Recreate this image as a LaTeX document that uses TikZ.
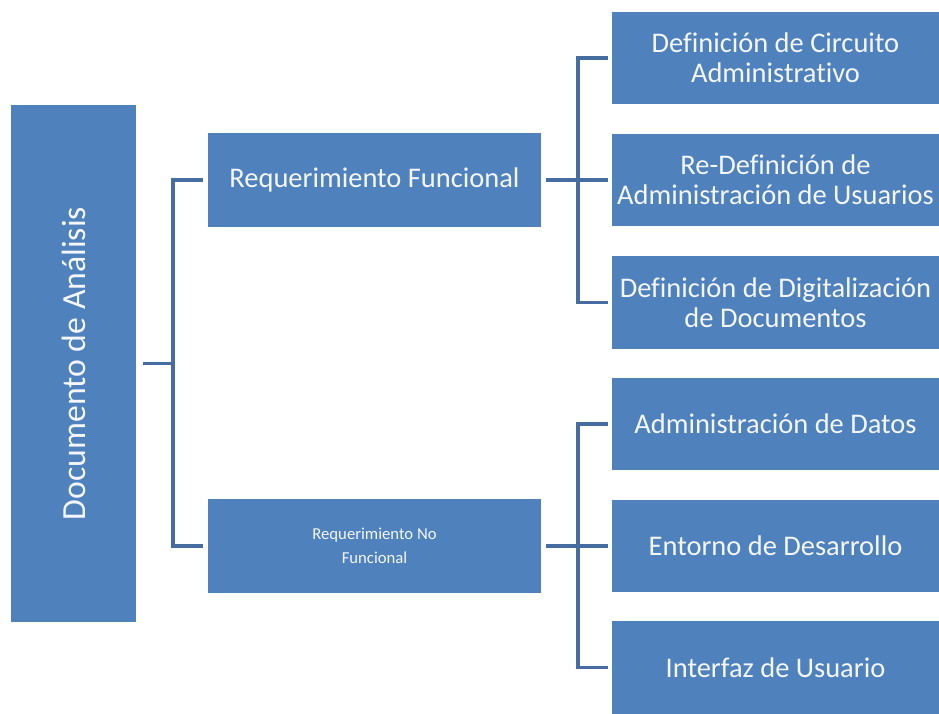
\documentclass[tikz,border=0pt]{standalone}
\usepackage{fontspec}
\setmainfont[Ligatures=CommonOff]{Carlito}
\usetikzlibrary{positioning}
\definecolor{boxfill}{HTML}{4F81BD}
\definecolor{linkline}{HTML}{466DA2}
\definecolor{boxtext}{HTML}{F4F6FA}
\newcommand{\bodysize}{\fontsize{16.2}{17.2}\selectfont}
\tikzset{
 every node/.append style={text=boxtext,align=center},
 box/.style={fill=boxfill,draw=none,inner sep=2pt,font=\bodysize},
 mid/.style={box,minimum width=6.66cm,minimum height=1.88cm},
 leaf/.style={box,minimum width=6.54cm,minimum height=1.86cm},
 link/.style={draw=linkline,line width=2.1pt},
}
\begin{document}
\begin{tikzpicture}[x=0.02cm,y=-0.02cm]

\useasboundingbox (0,0) rectangle (939,713);
\node[box,rotate=90,minimum width=10.34cm,minimum height=2.5cm,font=\fontsize{19.2}{22}\selectfont] (doc) at (73.5,363.5) {Documento de Análisis};
\node[mid] (rf) at (374.5,180) {Requerimiento Funcional};
\node[mid,font=\fontsize{9.5}{13.6}\selectfont] (rnf) at (374.5,546) {Requerimiento No\\Funcional};
\node[leaf] (d1) at (775.5,58) {Definición de Circuito\\Administrativo};
\node[leaf] (d2) at (775.5,180) {Re-Definición de\\Administración de Usuarios};
\node[leaf] (d3) at (775.5,302.5) {Definición de Digitalización\\de Documentos};
\node[leaf] (d4) at (775.5,424) {Administración de Datos};
\node[leaf] (d5) at (775.5,546) {Entorno de Desarrollo};
\node[leaf] (d6) at (775.5,667.5) {Interfaz de Usuario};
\coordinate (jL) at (173,363.5);
\coordinate (jA) at (578,180);
\coordinate (jB) at (578,546);
% left bracket
\draw[link] ([xshift=.14cm]doc.south) -- (jL);
\draw[link] ([xshift=-.1cm]rf.west) -| (jL) |- ([xshift=-.1cm]rnf.west);
% functional
\draw[link] ([xshift=.1cm]rf.east) -- ([xshift=-.08cm]d2.west);
\draw[link] ([xshift=-.08cm]d1.west) -| (jA) |- ([xshift=-.08cm]d3.west);
% non functional
\draw[link] ([xshift=.1cm]rnf.east) -- ([xshift=-.08cm]d5.west);
\draw[link] ([xshift=-.08cm]d4.west) -| (jB) |- ([xshift=-.08cm]d6.west);

\end{tikzpicture}
\end{document}
